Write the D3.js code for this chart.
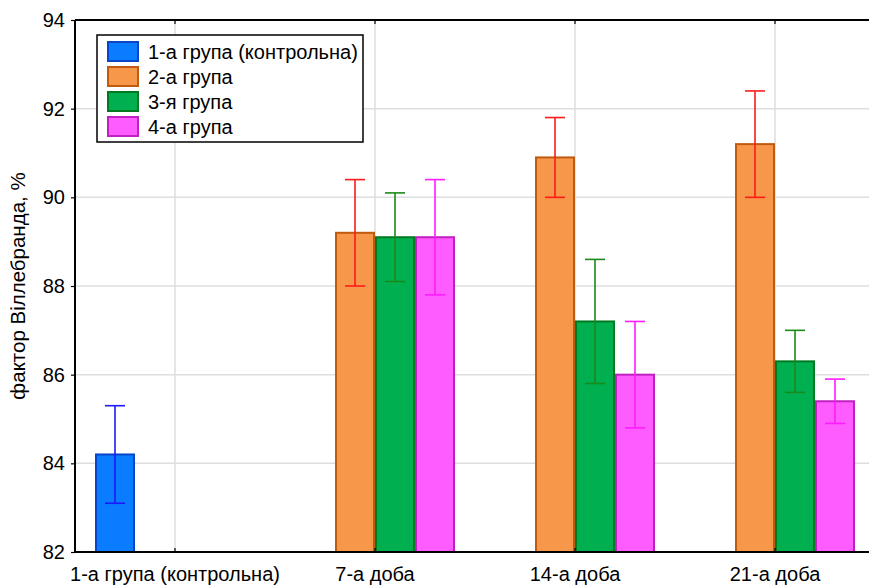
<!DOCTYPE html>
<html><head><meta charset="utf-8">
<script src="https://cdn.jsdelivr.net/npm/d3@7"></script>
<style>body{margin:0;background:#fff}svg{display:block;font-family:"Liberation Sans",Arial,sans-serif}</style>
</head><body><svg id="c" width="869" height="585"></svg>
<script>
const categories = ["1-а група (контрольна)", "7-а доба", "14-а доба", "21-а доба"];
const seriesNames = ["1-а група (контрольна)", "2-а група", "3-я група", "4-а група"];
// values per series for each category (null = no bar)
const group1 = [84.2, null, null, null];
const group1Low = [83.1, null, null, null];
const group1High = [85.3, null, null, null];
const group2 = [null, 89.2, 90.9, 91.2];
const group2Low = [null, 88.0, 90.0, 90.0];
const group2High = [null, 90.4, 91.8, 92.4];
const group3 = [null, 89.1, 87.2, 86.3];
const group3Low = [null, 88.1, 85.8, 85.6];
const group3High = [null, 90.1, 88.6, 87.0];
const group4 = [null, 89.1, 86.0, 85.4];
const group4Low = [null, 87.8, 84.8, 84.9];
const group4High = [null, 90.4, 87.2, 85.9];
const yTicks = [82, 84, 86, 88, 90, 92, 94];

const fills = ["#0a7cff", "#f7974a", "#00b050", "#ff5cff"];
const strokes = ["#0a45c8", "#c05a10", "#007a20", "#c020c0"];
const errColors = ["#1a1aff", "#ff1a1a", "#1a8a1a", "#ff1aff"];

const series = [
  {name: seriesNames[0], v: group1, lo: group1Low, hi: group1High},
  {name: seriesNames[1], v: group2, lo: group2Low, hi: group2High},
  {name: seriesNames[2], v: group3, lo: group3Low, hi: group3High},
  {name: seriesNames[3], v: group4, lo: group4Low, hi: group4High}
];

const svg = d3.select("#c");
const L = 75, T = 20, R = 875, B = 552;
const x = d3.scaleBand().domain(categories).range([L, R]).padding(0);
const xs = d3.scaleBand().domain(seriesNames).range([20, 180]).padding(0);
const y = d3.scaleLinear().domain([82, 94]).range([B, T]);

// grid
svg.append("g").selectAll("line.h").data(yTicks).join("line")
  .attr("x1", L).attr("x2", R).attr("y1", d => y(d)).attr("y2", d => y(d))
  .attr("stroke", "#dedede").attr("stroke-width", 1.5);
svg.append("g").selectAll("line.v").data(categories).join("line")
  .attr("x1", d => x(d) + x.bandwidth()/2).attr("x2", d => x(d) + x.bandwidth()/2)
  .attr("y1", T).attr("y2", B)
  .attr("stroke", "#dedede").attr("stroke-width", 1.5);

// bars
series.forEach((s, si) => {
  const g = svg.append("g");
  categories.forEach((c, ci) => {
    if (s.v[ci] == null) return;
    const bx = x(c) + xs(s.name);
    g.append("rect").attr("x", bx + 1).attr("y", y(s.v[ci]))
      .attr("width", xs.bandwidth() - 2).attr("height", y(82) - y(s.v[ci]))
      .attr("fill", fills[si]).attr("stroke", strokes[si]).attr("stroke-width", 2);
  });
});
// error bars
series.forEach((s, si) => {
  const g = svg.append("g").attr("stroke", errColors[si]).attr("stroke-width", 1.6);
  categories.forEach((c, ci) => {
    if (s.v[ci] == null) return;
    const cx = x(c) + xs(s.name) + xs.bandwidth()/2;
    g.append("line").attr("x1", cx).attr("x2", cx).attr("y1", y(s.lo[ci])).attr("y2", y(s.hi[ci]));
    g.append("line").attr("x1", cx-10).attr("x2", cx+10).attr("y1", y(s.lo[ci])).attr("y2", y(s.lo[ci]));
    g.append("line").attr("x1", cx-10).attr("x2", cx+10).attr("y1", y(s.hi[ci])).attr("y2", y(s.hi[ci]));
  });
});

// axes
const yAxis = svg.append("g").attr("transform", `translate(${L},0)`)
  .call(d3.axisLeft(y).tickValues(yTicks).tickSize(4).tickPadding(6).tickFormat(d3.format("d")));
yAxis.select(".domain").remove();
yAxis.selectAll("line").attr("stroke", "#000").attr("stroke-width", 1.2);
yAxis.selectAll("text").attr("font-size", 20).attr("fill", "#000").attr("font-family", "Liberation Sans, Arial, sans-serif");

const xAxis = svg.append("g").attr("transform", `translate(0,${B})`)
  .call(d3.axisBottom(x).tickSize(-4).tickPadding(15));
xAxis.select(".domain").remove();
xAxis.selectAll("line").attr("stroke", "#000").attr("stroke-width", 1.2);
xAxis.selectAll("text").attr("font-size", 20).attr("fill", "#000").attr("font-family", "Liberation Sans, Arial, sans-serif");

const xTop = svg.append("g").attr("transform", `translate(0,${T})`)
  .call(d3.axisTop(x).tickSize(-4).tickFormat(""));
xTop.select(".domain").remove();
xTop.selectAll("line").attr("stroke", "#000").attr("stroke-width", 1.2);

// frame lines
svg.append("line").attr("x1", L).attr("x2", L).attr("y1", T).attr("y2", B).attr("stroke", "#000").attr("stroke-width", 2);
svg.append("line").attr("x1", L).attr("x2", R).attr("y1", T).attr("y2", T).attr("stroke", "#000").attr("stroke-width", 2);
svg.append("line").attr("x1", L).attr("x2", R).attr("y1", B).attr("y2", B).attr("stroke", "#000").attr("stroke-width", 2);

// y title
svg.append("text").attr("transform", `translate(25,${(T+B)/2}) rotate(-90)`)
  .attr("text-anchor", "middle").attr("font-size", 20.5).text("фактор Віллебранда, %");

// legend
const lg = svg.append("g");
lg.append("rect").attr("x", 97).attr("y", 35).attr("width", 266).attr("height", 107)
  .attr("fill", "#fff").attr("stroke", "#000").attr("stroke-width", 1.5);
seriesNames.forEach((n, i) => {
  lg.append("rect").attr("x", 108).attr("y", 42 + i*25).attr("width", 30).attr("height", 19)
    .attr("fill", fills[i]).attr("stroke", strokes[i]).attr("stroke-width", 2);
  lg.append("text").attr("x", 148).attr("y", 59 + i*25).attr("font-size", 20).text(n);
});
</script></body></html>
